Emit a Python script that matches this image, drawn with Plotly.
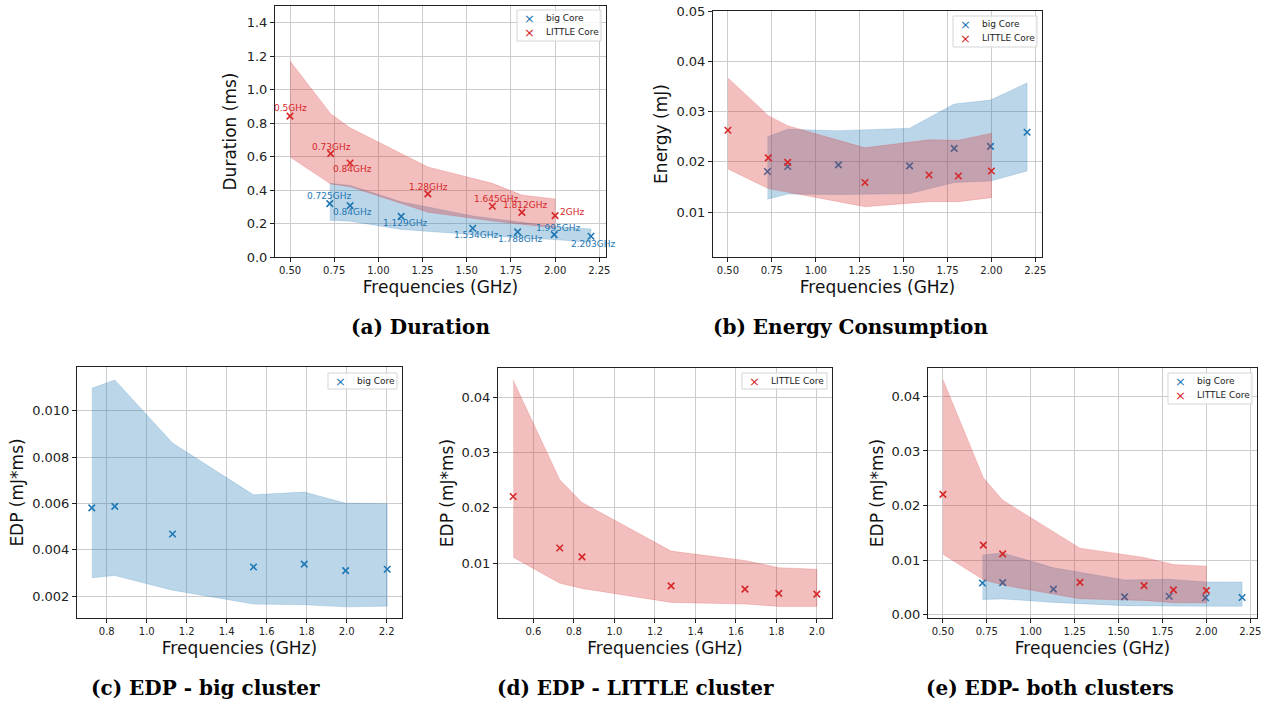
import plotly.graph_objects as go

# ---------------- data ----------------
big_freq = [0.725, 0.84, 1.129, 1.534, 1.788, 1.995, 2.203]
little_freq = [0.5, 0.73, 0.84, 1.28, 1.645, 1.812, 2.0]
big_labels = ["0.725GHz", "0.84GHz", "1.129GHz", "1.534GHz", "1.788GHz", "1.995GHz", "2.203GHz"]
little_labels = ["0.5GHz", "0.73GHz", "0.84GHz", "1.28GHz", "1.645GHz", "1.812GHz", "2GHz"]

# Duration (ms)
big_dur = [0.319, 0.307, 0.243, 0.172, 0.150, 0.134, 0.124]
big_dur_hi = [0.440, 0.428, 0.330, 0.245, 0.210, 0.183, 0.168]
big_dur_lo = [0.219, 0.214, 0.165, 0.134, 0.115, 0.104, 0.088]
little_dur = [0.842, 0.618, 0.562, 0.377, 0.303, 0.267, 0.247]
little_dur_hi = [1.171, 0.856, 0.772, 0.538, 0.440, 0.370, 0.347]
little_dur_lo = [0.598, 0.437, 0.420, 0.268, 0.215, 0.195, 0.175]

# Energy (mJ)
big_en = [0.0181, 0.0191, 0.0194, 0.0192, 0.0227, 0.0231, 0.0259]
big_en_hi = [0.0250, 0.0265, 0.0262, 0.0267, 0.0315, 0.0323, 0.0357]
big_en_lo = [0.0126, 0.0136, 0.0135, 0.0137, 0.0159, 0.0162, 0.0182]
little_en = [0.0263, 0.0208, 0.0199, 0.0159, 0.0174, 0.0172, 0.0182]
little_en_hi = [0.0367, 0.0292, 0.0272, 0.0228, 0.0244, 0.0243, 0.0257]
little_en_lo = [0.0186, 0.0147, 0.0139, 0.0111, 0.0121, 0.0121, 0.0129]

# EDP (mJ*ms)
big_edp = [0.00581, 0.00587, 0.00468, 0.00326, 0.00338, 0.00310, 0.00316]
big_edp_hi = [0.01096, 0.01132, 0.00860, 0.00637, 0.00649, 0.00601, 0.00599]
big_edp_lo = [0.00279, 0.00289, 0.00226, 0.00166, 0.00163, 0.00154, 0.00157]
little_edp = [0.02206, 0.01276, 0.01114, 0.00592, 0.00532, 0.00454, 0.00442]
little_edp_hi = [0.0431, 0.0251, 0.0210, 0.0122, 0.0105, 0.0092, 0.0089]
little_edp_lo = [0.0111, 0.0064, 0.00544, 0.00292, 0.00262, 0.0022, 0.0022]

# tick values
ticks_freq_a = [0.50, 0.75, 1.00, 1.25, 1.50, 1.75, 2.00, 2.25]
ticks_freq_c = [0.8, 1.0, 1.2, 1.4, 1.6, 1.8, 2.0, 2.2]
ticks_freq_d = [0.6, 0.8, 1.0, 1.2, 1.4, 1.6, 1.8, 2.0]
ticks_dur = [0.0, 0.2, 0.4, 0.6, 0.8, 1.0, 1.2, 1.4]
ticks_en = [0.01, 0.02, 0.03, 0.04, 0.05]
ticks_edp_c = [0.002, 0.004, 0.006, 0.008, 0.010]
ticks_edp_d = [0.01, 0.02, 0.03, 0.04]
ticks_edp_e = [0.00, 0.01, 0.02, 0.03, 0.04]

series_names = ["big Core", "LITTLE Core"]
captions = ["(a) Duration", "(b) Energy Consumption", "(c) EDP - big cluster",
            "(d) EDP - LITTLE cluster", "(e) EDP- both clusters"]

# ---------------- style ----------------
W, H = 1268, 707
BLUE = "#1f77b4"
RED = "#d62728"
BLUE_FILL = "rgba(31,119,180,0.3)"
RED_FILL = "rgba(214,39,40,0.3)"
FONT = "DejaVu Sans"

fig = go.Figure()


def band(x, lo, hi, fill, xa, ya):
    fig.add_trace(go.Scatter(
        x=list(x) + list(x)[::-1], y=list(hi) + list(lo)[::-1],
        fill="toself", fillcolor=fill, mode="lines",
        line=dict(width=0.6, color=fill), hoverinfo="skip",
        showlegend=False, xaxis=xa, yaxis=ya))


def pts(x, y, color, name, xa, ya):
    fig.add_trace(go.Scatter(
        x=x, y=y, mode="markers", name=name,
        marker=dict(symbol="x-thin", size=6.5, color=color,
                    line=dict(width=1.6, color=color)),
        showlegend=False, xaxis=xa, yaxis=ya))


# (a) Duration
band(big_freq, big_dur_lo, big_dur_hi, BLUE_FILL, "x", "y")
pts(big_freq, big_dur, BLUE, series_names[0], "x", "y")
band(little_freq, little_dur_lo, little_dur_hi, RED_FILL, "x", "y")
pts(little_freq, little_dur, RED, series_names[1], "x", "y")

# (b) Energy
band(big_freq, big_en_lo, big_en_hi, BLUE_FILL, "x2", "y2")
pts(big_freq, big_en, BLUE, series_names[0], "x2", "y2")
band(little_freq, little_en_lo, little_en_hi, RED_FILL, "x2", "y2")
pts(little_freq, little_en, RED, series_names[1], "x2", "y2")

# (c) EDP big
band(big_freq, big_edp_lo, big_edp_hi, BLUE_FILL, "x3", "y3")
pts(big_freq, big_edp, BLUE, series_names[0], "x3", "y3")

# (d) EDP LITTLE
band(little_freq, little_edp_lo, little_edp_hi, RED_FILL, "x4", "y4")
pts(little_freq, little_edp, RED, series_names[1], "x4", "y4")

# (e) EDP both
band(big_freq, big_edp_lo, big_edp_hi, BLUE_FILL, "x5", "y5")
pts(big_freq, big_edp, BLUE, series_names[0], "x5", "y5")
band(little_freq, little_edp_lo, little_edp_hi, RED_FILL, "x5", "y5")
pts(little_freq, little_edp, RED, series_names[1], "x5", "y5")

# frequency labels in (a): (xanchor, xshift, yshift)
little_lab_pos = [("center", 0, 8), ("center", 1, 7), ("center", 2, -6),
                  ("center", 1, 7), ("center", 4, 7), ("center", 4, 7), ("left", 3, 4)]
big_lab_pos = [("center", 0, 8), ("center", 2, -6), ("center", 4, -7),
               ("center", 4, -7), ("center", 3, -7), ("center", 4, 7), ("center", 3, -8)]
annotations = []
shapes = []
for xv, yv, t, p in zip(little_freq, little_dur, little_labels, little_lab_pos):
    annotations.append(dict(x=xv, y=yv, xref="x", yref="y", text=t, showarrow=False,
                            xanchor=p[0], yanchor="middle", xshift=p[1], yshift=p[2],
                            font=dict(family=FONT, size=9, color=RED)))
for xv, yv, t, p in zip(big_freq, big_dur, big_labels, big_lab_pos):
    annotations.append(dict(x=xv, y=yv, xref="x", yref="y", text=t, showarrow=False,
                            xanchor=p[0], yanchor="middle", xshift=p[1], yshift=p[2],
                            font=dict(family=FONT, size=9, color=BLUE)))

# captions
cap_pos = [(420, 327), (850, 327), (205, 688), (635, 688), (1050, 688)]
for t, (cx, cy) in zip(captions, cap_pos):
    annotations.append(dict(x=cx / W, y=1 - cy / H, xref="paper", yref="paper",
                            text="<b>" + t + "</b>", showarrow=False,
                            xanchor="center", yanchor="middle",
                            font=dict(family="DejaVu Serif", size=20, color="black")))


# matplotlib-style legends (left, top, width, entries)
def add_legend(left, top, width, entries):
    n = len(entries)
    height = 16 + 14 * (n - 1) + (1 if n > 1 else 0)
    shapes.append(dict(type="rect", xref="paper", yref="paper",
                       x0=left / W, x1=(left + width) / W,
                       y0=1 - (top + height) / H, y1=1 - top / H,
                       line=dict(color="#d5d5d5", width=1),
                       fillcolor="rgba(255,255,255,0.8)", layer="above"))
    for i, (name, color) in enumerate(entries):
        cy = top + 8 + 14 * i
        annotations.append(dict(x=(left + 12) / W, y=1 - (cy + 0.5) / H, xref="paper", yref="paper",
                                text="×", showarrow=False, xanchor="center", yanchor="middle",
                                font=dict(family=FONT, size=13, color=color)))
        annotations.append(dict(x=(left + 27) / W, y=1 - cy / H, xref="paper", yref="paper",
                                text=name, showarrow=False, xanchor="left", yanchor="middle",
                                font=dict(family=FONT, size=9, color="#222")))


both = [(series_names[0], BLUE), (series_names[1], RED)]
add_legend(517, 10, 84, both)
add_legend(953, 16, 84, both)
add_legend(328, 373, 69, [(series_names[0], BLUE)])
add_legend(742, 373, 85, [(series_names[1], RED)])
add_legend(1168, 373, 84, both)


def px_dom(a, b, total):
    return [a / total, b / total]


def ydom(top, bot):
    return [1 - bot / H, 1 - top / H]


def xaxis(dom, rng, tv, fmt, anchor):
    return dict(domain=dom, range=rng, tickvals=tv, tickformat=fmt, anchor=anchor,
                showgrid=True, gridcolor="#cccccc", gridwidth=1, zeroline=False,
                showline=True, mirror=True, linecolor="#222", linewidth=1,
                ticks="outside", ticklen=4, tickcolor="#222",
                tickfont=dict(family=FONT, size=10, color="#222"),
                title=dict(text="Frequencies (GHz)", standoff=6,
                           font=dict(family=FONT, size=17, color="#111")),
                automargin=False)


def yaxis(dom, rng, tv, fmt, anchor, title, standoff):
    return dict(domain=dom, range=rng, tickvals=tv, tickformat=fmt, anchor=anchor,
                showgrid=True, gridcolor="#cccccc", gridwidth=1, zeroline=False,
                showline=True, mirror=True, linecolor="#222", linewidth=1,
                ticks="outside", ticklen=4, tickcolor="#222",
                tickfont=dict(family=FONT, size=13, color="#222"),
                title=dict(text=title, standoff=standoff,
                           font=dict(family=FONT, size=17, color="#111")),
                automargin=False)


fig.update_layout(
    width=W, height=H, margin=dict(l=0, r=0, t=0, b=0),
    paper_bgcolor="white", plot_bgcolor="white", showlegend=False,
    xaxis=xaxis(px_dom(275, 606, W), [0.415, 2.288], ticks_freq_a, ".2f", "y"),
    yaxis=yaxis(ydom(6, 257), [0, 1.5], ticks_dur, ".1f", "x", "Duration (ms)", 5),
    xaxis2=xaxis(px_dom(713, 1042, W), [0.415, 2.288], ticks_freq_a, ".2f", "y2"),
    yaxis2=yaxis(ydom(11, 257), [0.0011, 0.05], ticks_en, ".2f", "x2", "Energy (mJ)", 4),
    xaxis3=xaxis(px_dom(77, 402, W), [0.651, 2.277], ticks_freq_c, ".1f", "y3"),
    yaxis3=yaxis(ydom(367, 618), [0.00106, 0.01188], ticks_edp_c, ".3f", "x3", "EDP (mJ*ms)", 4),
    xaxis4=xaxis(px_dom(498, 832, W), [0.425, 2.075], ticks_freq_d, ".1f", "y4"),
    yaxis4=yaxis(ydom(368, 618), [0.0001, 0.0453], ticks_edp_d, ".2f", "x4", "EDP (mJ*ms)", 3),
    xaxis5=xaxis(px_dom(928, 1257, W), [0.415, 2.288], ticks_freq_a, ".2f", "y5"),
    yaxis5=yaxis(ydom(368, 618), [-0.0006, 0.0452], ticks_edp_e, ".2f", "x5", "EDP (mJ*ms)", 3),
    annotations=annotations,
    shapes=shapes,
)

fig.write_html("out.html")
